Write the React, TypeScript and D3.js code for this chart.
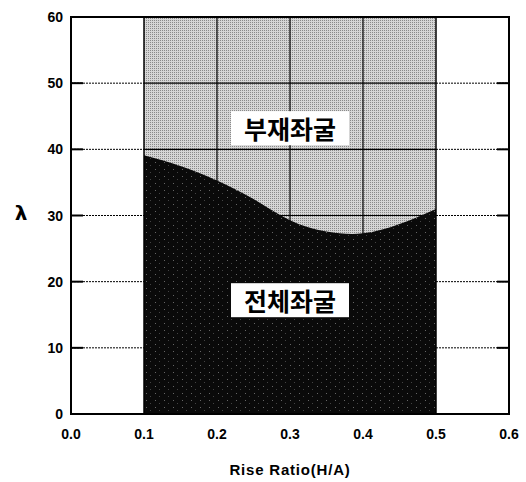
import React from "react";
import * as d3 from "d3";

// boundary between member buckling (above) and overall buckling (below)
const riseRatio = [0.1, 0.15, 0.2, 0.25, 0.3, 0.35, 0.4, 0.45, 0.5];
const lambdaBoundary = [39.1, 37.5, 35.3, 32.5, 29.3, 27.6, 27.3, 28.7, 31.0];

const xTicks = [0.0, 0.1, 0.2, 0.3, 0.4, 0.5, 0.6];
const yTicks = [0, 10, 20, 30, 40, 50, 60];
const regionLabels = ["부재좌굴", "전체좌굴"];

const W = 526;
const H = 482;
const margin = { top: 17, right: 17, bottom: 68, left: 71 };

const App = () => {
  const x = d3.scaleLinear().domain([0, 0.6]).range([margin.left, W - margin.right]);
  const y = d3.scaleLinear().domain([0, 60]).range([H - margin.bottom, margin.top]);

  const data = riseRatio.map((r, i) => ({ r, l: lambdaBoundary[i] }));
  const x0 = x(riseRatio[0]);
  const x1 = x(riseRatio[riseRatio.length - 1]);

  const lower = d3.area<{ r: number; l: number }>()
    .x((d) => x(d.r))
    .y0(y(0))
    .y1((d) => y(d.l))
    .curve(d3.curveNatural)(data);

  const tickFont = { fontFamily: "'Liberation Sans', Arial, sans-serif", fontWeight: 700, fontSize: 14 };
  const labelFont = { fontFamily: "'Noto Sans CJK KR', sans-serif", fontWeight: 700, fontSize: 25 };

  return (
    <svg width={W} height={H} style={{ position: "absolute", left: 0, top: 0, background: "#fff" }}>
      <defs>
        <pattern id="light" width="2" height="2" patternUnits="userSpaceOnUse">
          <rect width="2" height="2" fill="#d6d6d6" />
          <rect x="0" y="0" width="1" height="1" fill="#8a8a8a" />
        </pattern>
        <pattern id="dark" width="9" height="7" patternUnits="userSpaceOnUse">
          <rect width="9" height="7" fill="#0a0a0a" />
          <rect x="2" y="1" width="1" height="1" fill="#666" />
          <rect x="6" y="4" width="1" height="1" fill="#444" />
        </pattern>
      </defs>

      {/* light shaded band 0.1 - 0.5 */}
      <rect x={x0} y={y(60)} width={x1 - x0} height={y(0) - y(60)} fill="url(#light)" />

      {/* grid: dotted in the white areas, solid in the shaded band */}
      {yTicks.slice(1, -1).map((t) => (
        <g key={`gy-${t}`}>
          <line x1={x(0)} x2={x0} y1={y(t)} y2={y(t)} stroke="#000" strokeWidth={1} strokeDasharray="2,1" />
          <line x1={x1} x2={x(0.6)} y1={y(t)} y2={y(t)} stroke="#000" strokeWidth={1} strokeDasharray="2,1" />
          <line x1={x0} x2={x1} y1={y(t)} y2={y(t)} stroke="#000" strokeWidth={1.2} />
          <line x1={x(0)} x2={x(0) + 12} y1={y(t)} y2={y(t)} stroke="#000" strokeWidth={2} />
          <line x1={x(0.6) - 12} x2={x(0.6)} y1={y(t)} y2={y(t)} stroke="#000" strokeWidth={2} />
        </g>
      ))}
      {xTicks.filter((t) => t > 0.1 && t < 0.5).map((t) => (
        <line key={`gx-${t}`} x1={x(t)} x2={x(t)} y1={y(60)} y2={y(0)} stroke="#000" strokeWidth={1.2} />
      ))}

      {/* overall buckling region */}
      <path d={lower ?? ""} fill="url(#dark)" />

      <line x1={x0} x2={x0} y1={y(60)} y2={y(0)} stroke="#000" strokeWidth={1.5} />
      <line x1={x1} x2={x1} y1={y(60)} y2={y(0)} stroke="#000" strokeWidth={1.5} />

      {/* frame */}
      <rect x={x(0)} y={y(60)} width={x(0.6) - x(0)} height={y(0) - y(60)} fill="none" stroke="#000" strokeWidth={2} />

      {/* region labels */}
      {[
        { text: regionLabels[0], cx: x(0.3), cy: y(43.2) },
        { text: regionLabels[1], cx: x(0.3), cy: y(17.2) },
      ].map((d) => (
        <g key={d.text}>
          <rect x={d.cx - 59} y={d.cy - 17} width={118} height={34} fill="#fff" />
          <text x={d.cx} y={d.cy} textAnchor="middle" dominantBaseline="central" style={labelFont} fill="#000">
            {d.text}
          </text>
        </g>
      ))}

      {/* axis tick labels */}
      {yTicks.map((t) => (
        <text key={`yl-${t}`} x={x(0) - 8} y={y(t)} textAnchor="end" dominantBaseline="central" style={tickFont}>
          {t}
        </text>
      ))}
      {xTicks.map((t) => (
        <text key={`xl-${t}`} x={x(t)} y={y(0) + 20} textAnchor="middle" dominantBaseline="central" style={tickFont}>
          {d3.format(".1f")(t)}
        </text>
      ))}

      <text x={x(0.3)} y={469} textAnchor="middle" dominantBaseline="central" style={{ ...tickFont, fontSize: 15, letterSpacing: 0.8 }}>
        Rise Ratio(H/A)
      </text>
      <text x={21} y={213} textAnchor="middle" dominantBaseline="central" style={{ fontFamily: "'DejaVu Sans', sans-serif", fontWeight: 700, fontSize: 20 }}>
        λ
      </text>
    </svg>
  );
};

export default App;
